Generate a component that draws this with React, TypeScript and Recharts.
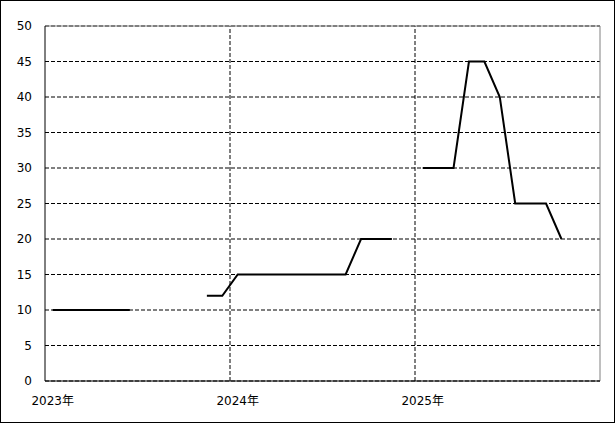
import { CartesianGrid, Line, LineChart, ReferenceLine, XAxis, YAxis } from "recharts"

// month index from Jan 2023 (0) to Dec 2025 (35)
const months = Array.from({ length: 36 }, (_, i) => i)
const values: (number | null)[] = [
  10, 10, 10, 10, 10, 10, null, null, null, null, 12, 12,
  15, 15, 15, 15, 15, 15, 15, 15, 20, 20, 20, null,
  30, 30, 30, 45, 45, 40, 25, 25, 25, 20, null, null,
]
const yearTicks = [0.5, 12.5, 24.5]
const yearLabels = ["2023年", "2024年", "2025年"]
const yTicks = [0, 5, 10, 15, 20, 25, 30, 35, 40, 45, 50]

const data = months.map((m, i) => ({ x: m + 0.5, value: values[i] }))

const font = { fontFamily: '"DejaVu Sans", "Noto Sans CJK JP", sans-serif', fontSize: 12, fill: "#000" }

export default function App() {
  return (
    <div style={{ position: "absolute", left: 0, top: 0, width: 615, height: 424, background: "#fff" }}>
      <div
        style={{
          position: "absolute",
          left: 0,
          top: 0,
          width: 615,
          height: 423,
          boxSizing: "border-box",
          border: "1px solid #000",
        }}
      />
      <div style={{ position: "absolute", left: 0, top: 0 }}>
        <LineChart width={615} height={424} data={data} margin={{ top: 26, right: 15, bottom: 13, left: 0 }}>
          <CartesianGrid vertical={false} stroke="#000" strokeDasharray="4 2" />
          <ReferenceLine x={12} stroke="#000" strokeDasharray="4 2" />
          <ReferenceLine x={24} stroke="#000" strokeDasharray="4 2" />
          <ReferenceLine y={50} stroke="#808080" />
          <ReferenceLine x={36} stroke="#808080" />
          <XAxis
            dataKey="x"
            type="number"
            domain={[0, 36]}
            ticks={yearTicks}
            tickFormatter={(v: number) => yearLabels[yearTicks.indexOf(v)]}
            height={30}
            tickLine={false}
            tickSize={0}
            tickMargin={15}
            axisLine={{ stroke: "#000" }}
            tick={font}
            interval={0}
          />
          <YAxis
            type="number"
            domain={[0, 50]}
            ticks={yTicks}
            width={45}
            tickLine={false}
            tickSize={0}
            tickMargin={13}
            axisLine={{ stroke: "#000" }}
            tick={font}
            interval={0}
          />
          <Line
            type="linear"
            dataKey="value"
            stroke="#000"
            strokeWidth={2}
            dot={false}
            activeDot={false}
            connectNulls={false}
            isAnimationActive={false}
          />
        </LineChart>
      </div>
    </div>
  )
}
